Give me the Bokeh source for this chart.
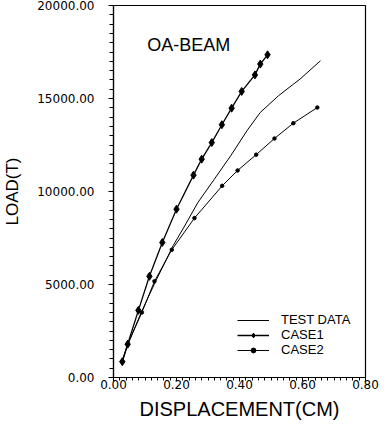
from bokeh.plotting import figure
from bokeh.models import (Range1d, SingleIntervalTicker, PrintfTickFormatter,
                          Legend, LegendItem, Label)
from bokeh.embed import file_html
from bokeh.resources import INLINE

# ---- data ----
test_x = [0.027, 0.045, 0.088, 0.132, 0.189, 0.226, 0.268, 0.320, 0.372, 0.425, 0.466, 0.524, 0.571, 0.592, 0.657]
test_y = [860, 1750, 3500, 5110, 7080, 8150, 9410, 10660, 11920, 13300, 14250, 15150, 15770, 16040, 17030]

case1_x = [0.028, 0.045, 0.079, 0.114, 0.155, 0.200, 0.254, 0.280, 0.312, 0.344, 0.375, 0.407, 0.449, 0.466, 0.489]
case1_y = [850, 1790, 3610, 5440, 7260, 9050, 10880, 11740, 12630, 13590, 14480, 15380, 16270, 16850, 17350]

case2_x = [0.027, 0.045, 0.090, 0.130, 0.185, 0.257, 0.345, 0.394, 0.453, 0.511, 0.571, 0.647]
case2_y = [860, 1790, 3495, 5170, 6866, 8570, 10305, 11130, 11980, 12850, 13672, 14516]

series_names = ["TEST DATA", "CASE1", "CASE2"]
x_label = "DISPLACEMENT(CM)"
y_label = "LOAD(T)"
panel_title = "OA-BEAM"

p = figure(width=381, height=422, output_backend="svg", toolbar_location=None,
           x_range=Range1d(0, 0.8), y_range=Range1d(0, 20000),
           min_border_left=111, min_border_right=16, min_border_top=5,
           min_border_bottom=45)

p.xgrid.visible = False
p.ygrid.visible = False
p.background_fill_color = "white"
p.border_fill_color = "white"
p.outline_line_color = "black"
p.outline_line_width = 1.2

tick_font = "DejaVu Sans"
lab_font = "Liberation Sans"

p.xaxis.ticker = SingleIntervalTicker(interval=0.2, num_minor_ticks=10)
p.yaxis.ticker = SingleIntervalTicker(interval=5000, num_minor_ticks=10)
p.xaxis.formatter = PrintfTickFormatter(format="%.2f")
p.yaxis.formatter = PrintfTickFormatter(format="%.2f")

for ax in (p.xaxis[0], p.yaxis[0]):
    ax.axis_line_color = "black"
    ax.axis_line_width = 1.2
    ax.major_tick_line_color = "black"
    ax.minor_tick_line_color = "black"
    ax.major_tick_in = 0
    ax.minor_tick_in = 0
    ax.major_label_text_font = tick_font
    ax.major_label_text_font_size = "12px"
    ax.major_label_text_color = "black"
    ax.axis_label_text_font = lab_font
    ax.axis_label_text_font_style = "normal"
    ax.axis_label_text_color = "black"

p.xaxis.major_tick_out = 4
p.xaxis.minor_tick_out = 3
p.xaxis.major_label_standoff = -2
p.xaxis.axis_label = x_label
p.xaxis.axis_label_text_font_size = "20px"
p.xaxis.axis_label_standoff = 6

p.yaxis.major_tick_out = 5
p.yaxis.minor_tick_out = 4
p.yaxis.major_label_standoff = 14
p.yaxis.axis_label = y_label
p.yaxis.axis_label_text_font_size = "17px"
p.yaxis.axis_label_standoff = 12

r_test = p.line(test_x, test_y, line_color="black", line_width=1.0)
r_c1l = p.line(case1_x, case1_y, line_color="black", line_width=1.3)
r_c1m = p.scatter(case1_x, case1_y, marker="diamond", size=8,
                  fill_color="black", line_color="black")
r_c2l = p.line(case2_x, case2_y, line_color="black", line_width=1.0)
r_c2m = p.scatter(case2_x, case2_y, marker="circle", size=3.5,
                  fill_color="black", line_color="black")

legend = Legend(items=[
    LegendItem(label=series_names[0], renderers=[r_test]),
    LegendItem(label=series_names[1], renderers=[r_c1l, r_c1m]),
    LegendItem(label=series_names[2], renderers=[r_c2l, r_c2m]),
], location=(124, 20), padding=0, margin=0, spacing=0,
    glyph_width=32, glyph_height=12, label_height=12, label_standoff=12,
    label_text_font=lab_font, label_text_font_size="13px",
    label_text_color="black", border_line_color=None,
    background_fill_alpha=0)
p.add_layout(legend, "center")

p.add_layout(Label(x=0.107, y=17850, text=panel_title, text_font=lab_font,
                   text_font_size="18px", text_color="black",
                   text_baseline="alphabetic"))

open("out.html", "w").write(file_html(p, INLINE))
